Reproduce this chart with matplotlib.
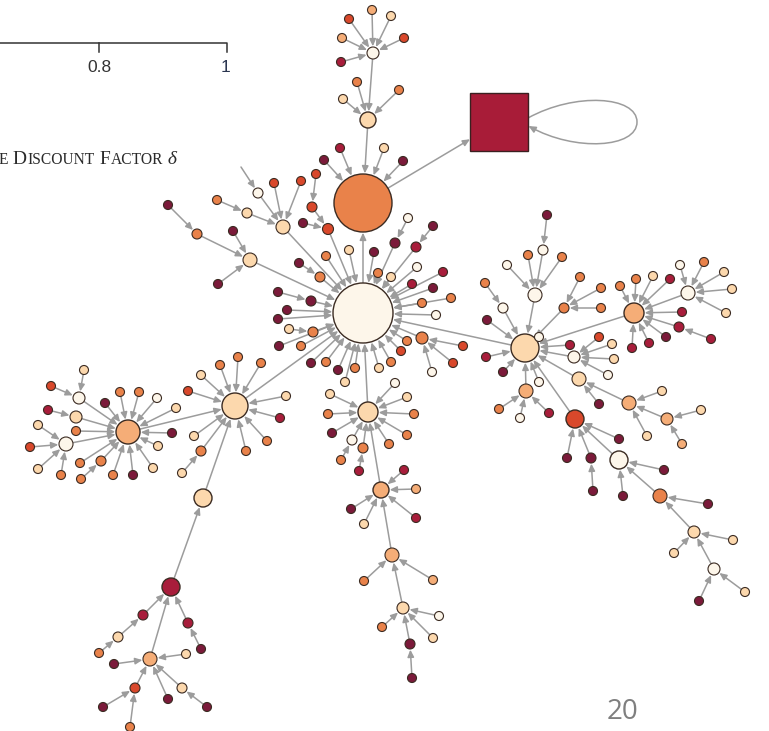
import numpy as np
import matplotlib.pyplot as plt
from matplotlib.patches import Circle, Rectangle, FancyArrowPatch, ArrowStyle
from matplotlib.path import Path

# node fill shades, light to dark
SHADES = {"w": "#fdf6ea", "l": "#fcd8ad", "p": "#f5ad77", "o": "#e9824a",
          "r": "#d9482b", "c": "#a81d3b", "m": "#7b1a3a"}
EDGE_COLOR = "#9c9c9c"
RIM_COLOR = "#3b2b22"
LEAF_R = 4.5

# inner nodes: name, x, y, radius, shade, parent
hubs = [
    ("H0", 363, 313, 30, "w", "H1"),
    ("H1", 363, 203, 29, "o", "SQ"),
    ("T2", 368, 120, 8, "l", "H1"),
    ("T1", 373, 53, 6, "w", "T2"),
    ("UL", 283, 227, 7, "l", "H0"),
    ("UL2", 247, 213, 5, "l", "UL"),
    ("UL3", 258, 193, 5, "w", "UL"),
    ("A2", 328, 229, 5.5, "r", "H0"),
    ("A1", 312, 207, 5, "r", "A2"),
    ("LM", 250, 260, 7, "l", "H0"),
    ("LM1", 197, 234, 5, "o", "LM"),
    ("Y1", 395, 243, 5, "m", "H0"),
    ("Y2", 416, 247, 5, "c", "H0"),
    ("Z1", 320, 277, 5, "o", "H0"),
    ("Z2", 311, 301, 5, "m", "H0"),
    ("Z3", 313, 332, 5, "o", "H0"),
    ("X1", 422, 338, 6, "o", "H0"),
    ("HM", 368, 412, 10, "l", "H0"),
    ("HMa", 352, 440, 5, "w", "HM"),
    ("HMb", 363, 448, 5, "o", "HM"),
    ("HM2", 381, 490, 8, "p", "HM"),
    ("HM3", 392, 555, 7, "p", "HM2"),
    ("HM4", 403, 608, 6, "l", "HM3"),
    ("HM4a", 410, 644, 5, "m", "HM4"),
    ("HR", 525, 348, 14, "l", "H0"),
    ("HRa", 535, 295, 7, "w", "HR"),
    ("HRa1", 543, 250, 5, "w", "HRa"),
    ("HRb", 503, 308, 5, "w", "HR"),
    ("HRc", 526, 391, 7, "p", "HR"),
    ("HRd", 574, 357, 6, "w", "HR"),
    ("HRe", 579, 379, 7, "l", "HR"),
    ("HRe1", 629, 403, 7, "p", "HRe"),
    ("HRe2", 667, 419, 6, "p", "HRe1"),
    ("HRf", 575, 419, 9, "r", "HR"),
    ("HRf1", 619, 460, 9, "w", "HRf"),
    ("HRf2", 660, 496, 7, "o", "HRf1"),
    ("HRf3", 694, 532, 6, "l", "HRf2"),
    ("HRf4", 714, 569, 6, "w", "HRf3"),
    ("HRf5", 591, 458, 5, "m", "HRf"),
    ("HRg", 564, 308, 5, "o", "HR"),
    ("HFR", 634, 313, 10, "p", "HR"),
    ("HFRa", 688, 293, 7, "w", "HFR"),
    ("HFRb", 679, 327, 5, "c", "HFR"),
    ("HLM", 235, 406, 13, "l", "H0"),
    ("HLMa", 201, 451, 5, "o", "HLM"),
    ("HL", 128, 432, 12, "p", "HLM"),
    ("HLa", 79, 398, 6, "w", "HL"),
    ("HLb", 76, 417, 6, "l", "HL"),
    ("HLc", 66, 444, 7, "w", "HL"),
    ("HLd", 101, 461, 5, "o", "HL"),
    ("HB1", 203, 498, 9, "l", "HLM"),
    ("HLL", 171, 587, 9, "c", "HB1"),
    ("HLLa", 143, 615, 5, "c", "HLL"),
    ("HLLb", 118, 637, 5, "l", "HLLa"),
    ("HLLc", 188, 623, 5, "c", "HLL"),
    ("HLL2", 150, 659, 7, "p", "HLL"),
    ("HLL2a", 182, 688, 5, "l", "HLL2"),
    ("HLL2b", 135, 688, 5, "r", "HLL2"),
]

# leaf nodes grouped by the node they point to: (x, y, shade)
leaves = {
    "H0": [(326, 256, "o"), (349, 250, "l"), (374, 252, "m"), (378, 273, "o"),
           (287, 310, "m"), (278, 319, "m"), (279, 346, "m"), (301, 346, "o"),
           (311, 363, "m"), (326, 362, "o"), (338, 370, "m"), (355, 368, "o"),
           (345, 382, "l"), (379, 368, "l"), (417, 267, "w"), (391, 277, "l"),
           (443, 272, "c"), (412, 284, "c"), (433, 288, "m"), (451, 298, "o"),
           (422, 303, "o"), (436, 315, "w"), (407, 341, "o"), (401, 351, "r"),
           (391, 362, "o")],
    "H1": [(340, 148, "c"), (324, 160, "m"), (384, 148, "l"), (403, 161, "m")],
    "T2": [(357, 82, "o"), (343, 99, "l"), (399, 90, "o")],
    "T1": [(372, 10, "p"), (349, 19, "r"), (391, 16, "l"), (342, 38, "p"),
           (404, 38, "r"), (341, 62, "c")],
    "UL": [(274, 183, "r"), (301, 181, "r")],
    "UL2": [(217, 200, "o")],
    "A2": [(303, 223, "m")],
    "A1": [(316, 174, "r")],
    "LM": [(218, 284, "m"), (233, 231, "m")],
    "LM1": [(168, 205, "m")],
    "Y1": [(408, 218, "w")],
    "Y2": [(433, 226, "m")],
    "Z1": [(299, 263, "m")],
    "Z2": [(278, 292, "m")],
    "Z3": [(289, 329, "l")],
    "X1": [(463, 346, "r"), (453, 363, "r"), (432, 372, "w")],
    "HM": [(330, 394, "l"), (328, 414, "o"), (332, 433, "m"), (395, 383, "w"),
           (407, 397, "l"), (414, 414, "o"), (407, 435, "o"), (389, 444, "o")],
    "HMa": [(341, 460, "o")],
    "HMb": [(359, 471, "c")],
    "HM2": [(351, 509, "m"), (364, 524, "l"), (416, 489, "p"), (416, 518, "c"),
            (404, 470, "c")],
    "HM3": [(364, 581, "o"), (433, 580, "p")],
    "HM4": [(439, 616, "w"), (433, 638, "l"), (382, 627, "o")],
    "HM4a": [(412, 678, "m")],
    "HR": [(487, 320, "m"), (486, 357, "c"), (503, 372, "m"), (539, 337, "w"),
           (539, 382, "w"), (570, 345, "c")],
    "HRa": [(528, 255, "o"), (562, 257, "o"), (507, 265, "w")],
    "HRa1": [(547, 215, "m")],
    "HRb": [(485, 283, "o")],
    "HRc": [(499, 409, "o"), (520, 418, "w"), (549, 413, "c")],
    "HRd": [(599, 337, "r"), (612, 344, "l"), (614, 359, "l"), (608, 375, "w")],
    "HRe": [(599, 404, "m")],
    "HRe1": [(662, 391, "l"), (647, 436, "l")],
    "HRe2": [(701, 410, "l"), (682, 444, "p")],
    "HRf": [(619, 439, "m"), (567, 458, "m")],
    "HRf1": [(664, 470, "m"), (623, 496, "m")],
    "HRf2": [(708, 504, "m")],
    "HRf3": [(733, 540, "l"), (674, 553, "l")],
    "HRf4": [(699, 601, "m"), (745, 592, "l")],
    "HRf5": [(593, 491, "m")],
    "HRg": [(580, 277, "o"), (601, 288, "o"), (601, 308, "o")],
    "HFR": [(620, 286, "o"), (636, 279, "o"), (653, 276, "l"), (670, 279, "c"),
            (682, 312, "c"), (666, 337, "m"), (649, 343, "c"), (632, 348, "c")],
    "HFRa": [(680, 265, "w"), (704, 262, "o"), (724, 272, "l"), (732, 289, "l"),
             (726, 313, "l")],
    "HFRb": [(711, 339, "c")],
    "HLM": [(238, 357, "o"), (220, 365, "o"), (261, 363, "o"), (201, 375, "l"),
            (286, 396, "l"), (280, 418, "c"), (267, 441, "o"), (246, 451, "o"),
            (194, 436, "l"), (188, 391, "r")],
    "HLMa": [(182, 473, "l")],
    "HL": [(76, 431, "o"), (105, 403, "m"), (120, 392, "o"), (139, 392, "o"),
           (157, 398, "w"), (176, 408, "l"), (172, 433, "m"), (158, 446, "l"),
           (153, 468, "l"), (133, 475, "m"), (113, 475, "o"), (80, 463, "o")],
    "HLa": [(84, 370, "l"), (51, 386, "r")],
    "HLb": [(48, 410, "c")],
    "HLc": [(38, 425, "l"), (30, 447, "r"), (38, 469, "l"), (61, 475, "o")],
    "HLd": [(81, 479, "o")],
    "HLLb": [(99, 653, "o")],
    "HLLc": [(201, 649, "m")],
    "HLL2": [(186, 654, "l"), (114, 664, "m"), (168, 699, "m")],
    "HLL2a": [(207, 707, "m")],
    "HLL2b": [(103, 707, "m"), (130, 727, "o")],
}

# square sink node with a self loop
sink_xy = (499, 122)
sink_half = 29
sink_color = "#a81c38"

W, H = 769, 731
fig = plt.figure(figsize=(W / 100, H / 100), dpi=100)
ax = fig.add_axes([0, 0, 1, 1])
ax.set_xlim(0, W)
ax.set_ylim(H, 0)
ax.set_aspect("equal")
ax.axis("off")

head = ArrowStyle("-|>", head_length=0.7, head_width=0.32)


def arrow(p, q, rp, rq, box=False):
    p = np.asarray(p, float)
    q = np.asarray(q, float)
    d = q - p
    u = d / np.hypot(*d)
    a = p + u * rp
    if box:
        t = min(rq / abs(d[0]) if d[0] else 1, rq / abs(d[1]) if d[1] else 1)
        b = q - d * t
    else:
        b = q - u * (rq + 0.7)
    ax.add_patch(FancyArrowPatch(a, b, arrowstyle=head, mutation_scale=6,
                                 color=EDGE_COLOR, lw=1.1, shrinkA=0,
                                 shrinkB=0, zorder=1))


def node(x, y, r, shade):
    ax.add_patch(Circle((x, y), r, facecolor=SHADES[shade],
                        edgecolor=RIM_COLOR, lw=0.8 if r < 8 else 1.0,
                        zorder=2))


pos = {name: (x, y, r) for name, x, y, r, _, _ in hubs}

# edges between inner nodes
for name, x, y, r, shade, parent in hubs:
    if parent == "SQ":
        arrow((x, y), sink_xy, r, sink_half, box=True)
    else:
        px, py, pr = pos[parent]
        arrow((x, y), (px, py), r, pr)
    node(x, y, r, shade)

# leaf edges
for parent, group in leaves.items():
    px, py, pr = pos[parent]
    for x, y, shade in group:
        arrow((x, y), (px, py), LEAF_R, pr)
        node(x, y, LEAF_R, shade)

# stray edge entering from the upper left
arrow((241, 167), pos["UL3"][:2], 0, pos["UL3"][2])

# sink square and its loop
sx, sy = sink_xy
ax.add_patch(Rectangle((sx - sink_half, sy - sink_half), 2 * sink_half,
                       2 * sink_half, facecolor=sink_color,
                       edgecolor="#3a2020", lw=1.0, zorder=2))
loop = Path([(sx + sink_half, sy - 4), (575, 92), (637, 96), (637, 122),
             (637, 148), (575, 152), (sx + sink_half + 0.5, sy + 4)],
            [Path.MOVETO, Path.CURVE4, Path.CURVE4, Path.CURVE4,
             Path.CURVE4, Path.CURVE4, Path.CURVE4])
ax.add_patch(FancyArrowPatch(path=loop, arrowstyle=head, mutation_scale=6,
                             color=EDGE_COLOR, lw=1.1, zorder=1))

# fragment of the neighbouring plot's axis
ax.plot([0, 227, 227], [43, 43, 52], color="#333333", lw=1.1)
ax.plot([99, 99], [43, 52], color="#333333", lw=1.1)
ax.text(99, 68, "0.8", ha="center", va="center", fontsize=12.5,
        family="Liberation Sans", color="#333333")
ax.text(225, 68, "1", ha="center", va="center", fontsize=12.5,
        family="Liberation Sans", color="#2a3550")

# small-caps caption, built piece by piece
renderer = fig.canvas.get_renderer()
caption = [("E", 11.2, "normal"), (" D", 14, "normal"), ("ISCOUNT", 11.2, "normal"),
           (" F", 14, "normal"), ("ACTOR", 11.2, "normal"), (" δ", 14, "italic")]
cx = -1
for txt, size, style in caption:
    t = ax.text(cx, 164, txt, fontsize=size, family="Liberation Serif",
                style=style, color="#2a2a2a", va="baseline", ha="left")
    cx += t.get_window_extent(renderer).width

# page number
ax.text(622, 712, "20", ha="center", va="center", fontsize=20,
        family="Open Sans", color="#7f7f7f")

fig.savefig("out.png", dpi=100)
